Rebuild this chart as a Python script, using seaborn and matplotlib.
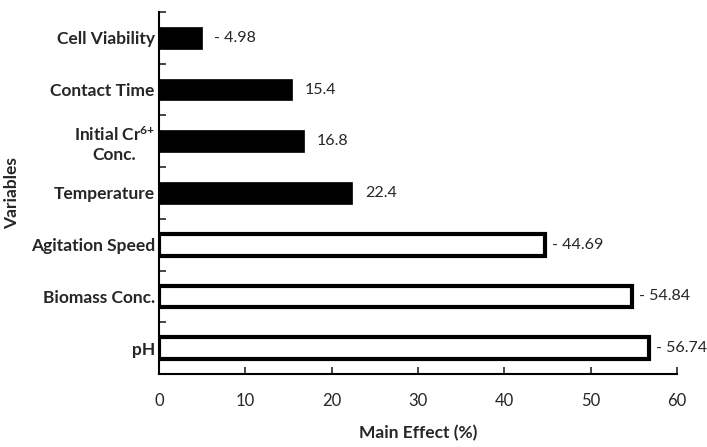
import matplotlib
matplotlib.use('Agg')
import matplotlib.pyplot as plt
import seaborn as sns
import numpy as np

# 데이터
variables = ['Cell Viability', 'Contact Time', 'Initial Cr$^{6{+}}$\nConc.', 'Temperature',
             'Agitation Speed', 'Biomass Conc.', 'pH']
effects = [-4.98, 15.4, 16.8, 22.4, -44.69, -54.84, -56.74]
x_ticks = [0, 10, 20, 30, 40, 50, 60]

sns.set_style('white')
plt.rcParams['font.family'] = ['Lato', 'DejaVu Sans']
plt.rcParams['mathtext.default'] = 'regular'

abs_effects = [abs(v) for v in effects]
# 상위 4개는 채움, 하위 3개는 테두리만
colors = ['black', 'black', 'black', 'black', 'white', 'white', 'white']
labels = [f'- {abs(v):g}' if v < 0 else f'{v:g}' for v in effects]

fig = plt.figure(figsize=(7.07, 4.47), dpi=100)
ax = fig.add_axes([0.2249, 0.1633, 0.7327, 0.8099])

sns.barplot(x=abs_effects, y=variables, hue=variables, palette=colors,
            legend=False, width=0.42, orient='h', ax=ax, saturation=1)

for i, bar in enumerate(ax.patches):
    bar.set_edgecolor('black')
    bar.set_linewidth(3.0 if colors[i] == 'white' else 0.5)

for i, cont in enumerate(ax.containers):
    pad = 5 if colors[i] == 'white' else 9
    ax.bar_label(cont, labels=[labels[i]], padding=pad, fontsize=11.5)

ax.set_xlim(0, 60)
ax.set_ylim(6.5, -0.5)
ax.set_xticks(x_ticks)
ax.set_xticklabels([str(t) for t in x_ticks], fontsize=12)
ax.tick_params(axis='x', direction='in', length=5, width=1.2, pad=14, bottom=True)

ax.set_yticks(np.arange(len(variables)))
ax.set_yticklabels(variables, fontsize=12.5, fontweight='bold')
ax.tick_params(axis='y', which='major', length=0, pad=3)
ax.set_yticks(np.arange(-0.5, len(variables) - 0.5, 1), minor=True)
ax.tick_params(axis='y', which='minor', direction='in', length=5, width=1.2, left=True)
for t in ax.get_yticklabels():
    t.set_multialignment('center')

ax.set_xlabel('Main Effect (%)', fontsize=12.5, fontweight='bold', labelpad=11)
ax.set_ylabel('Variables', fontsize=12.5, fontweight='bold')
ax.yaxis.set_label_coords(-0.268, 0.5)

sns.despine(ax=ax)
for s in ['left', 'bottom']:
    ax.spines[s].set_linewidth(1.5)
    ax.spines[s].set_color('black')

plt.savefig('out.png', dpi=100)
